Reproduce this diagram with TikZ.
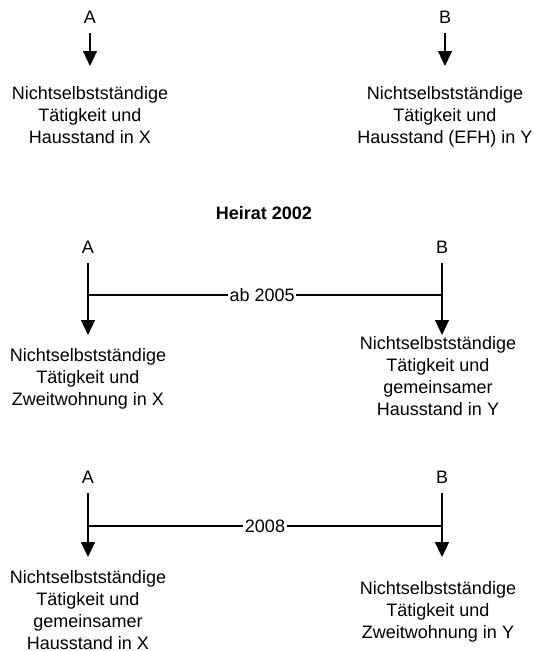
\documentclass[tikz,border=0pt]{standalone}
\usepackage{fontspec}
\setmainfont{Liberation Sans}
\usetikzlibrary{arrows.meta}
\begin{document}
\begin{tikzpicture}[x=1pt,y=1pt,
  lbl/.style={font=\fontsize{18}{22}\selectfont, inner sep=0pt, anchor=base},
  txt/.style={font=\fontsize{18}{22}\selectfont, align=center, inner sep=0pt, anchor=north},
  arr/.style={-{Triangle[width=14pt,length=15pt]}, line width=1.2pt},
  hline/.style={line width=1.2pt},
  yr/.style={font=\fontsize{18}{22}\selectfont, fill=white, inner xsep=1.5pt, inner ysep=1pt}]
\useasboundingbox (0,0) rectangle (534,-651);
% top section
\node[lbl] (A1) at (90,-23.5) {A};
\node[lbl] (B1) at (445,-23.5) {B};
\node[txt] (TA1) at (90,-86.4) {Nichtselbstständige\\Tätigkeit und\\Hausstand in X};
\node[txt] (TB1) at (445,-86.4) {Nichtselbstständige\\Tätigkeit und\\Hausstand (EFH) in Y};
\draw[arr, shorten <=9.5pt, shorten >=20.4pt] (A1.south) -- (TA1.north);
\draw[arr, shorten <=9.5pt, shorten >=20.4pt] (B1.south) -- (TB1.north);
% middle section
\node[lbl, font=\fontsize{18}{22}\selectfont\bfseries] (H) at (264,-219.5) {Heirat 2002};
\node[lbl] (A2) at (88,-253.5) {A};
\node[lbl] (B2) at (442,-253.5) {B};
\node[txt] (TA2) at (88,-348.4) {Nichtselbstständige\\Tätigkeit und\\Zweitwohnung in X};
\node[txt] (TB2) at (438,-336.4) {Nichtselbstständige\\Tätigkeit und\\gemeinsamer\\Hausstand in Y};
\draw[arr, shorten <=9.5pt, shorten >=13.4pt] (A2.south) -- (A2.south |- TA2.north);
\draw[arr, shorten <=9.5pt, shorten >=1.4pt] (B2.south) -- (B2.south |- TB2.north);
\coordinate (jA2) at (88,-295);
\coordinate (jB2) at (442,-295);
\draw[hline] (jA2) -- node[yr, pos=0.492] (Y2) {ab 2005} (jB2);
% bottom section
\node[lbl] (A3) at (88,-483.5) {A};
\node[lbl] (B3) at (442,-483.5) {B};
\node[txt] (TA3) at (88,-570.4) {Nichtselbstständige\\Tätigkeit und\\gemeinsamer\\Hausstand in X};
\node[txt] (TB3) at (438,-581.4) {Nichtselbstständige\\Tätigkeit und\\Zweitwohnung in Y};
\draw[arr, shorten <=9.5pt, shorten >=13.4pt] (A3.south) -- (A3.south |- TA3.north);
\draw[arr, shorten <=9.5pt, shorten >=24.4pt] (B3.south) -- (B3.south |- TB3.north);
\coordinate (jA3) at (88,-526);
\coordinate (jB3) at (442,-526);
\draw[hline] (jA3) -- node[yr, pos=0.5] (Y3) {2008} (jB3);
\end{tikzpicture}
\end{document}
